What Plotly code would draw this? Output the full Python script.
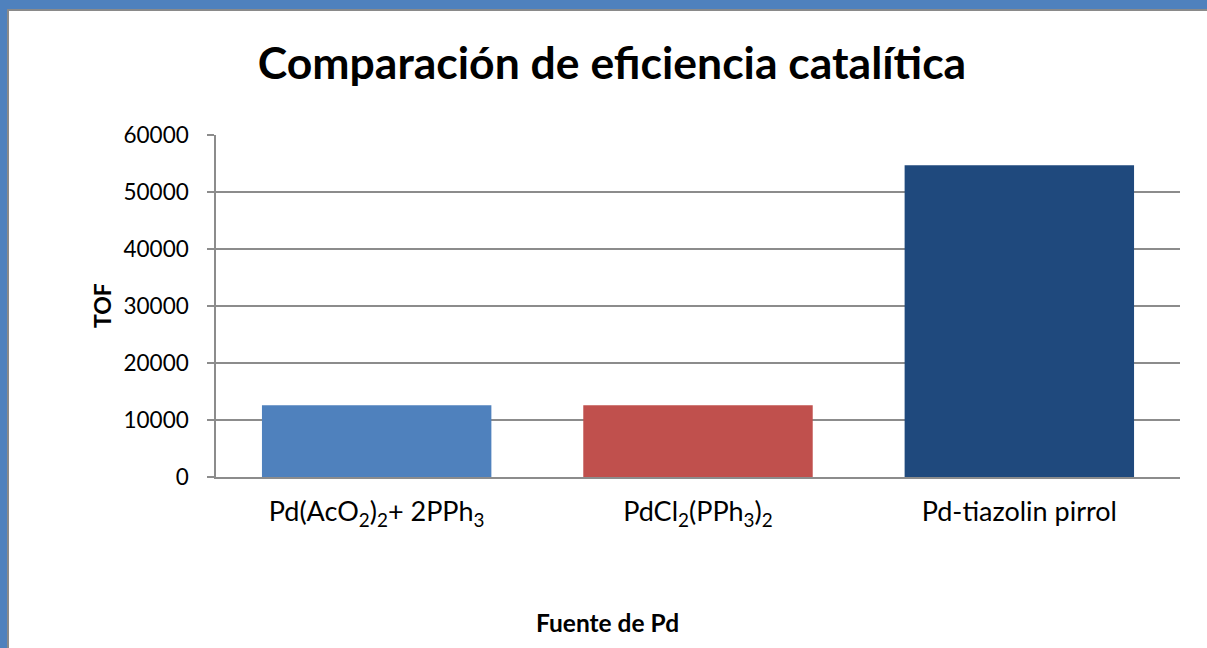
import plotly.graph_objects as go

# Catalyst sources and their turnover frequencies
categories = [
    "Pd(AcO<sub>2</sub>)<sub>2</sub>+ 2PPh<sub>3</sub>",
    "PdCl<sub>2</sub>(PPh<sub>3</sub>)<sub>2</sub>",
    "Pd-tiazolin pirrol",
]
tof_values = [12600, 12600, 54700]
bar_colors = ["#4F81BD", "#C0504D", "#1F497D"]
y_ticks = [0, 10000, 20000, 30000, 40000, 50000, 60000]

W, H = 1207, 648
ML, MR, MT, MB = 216, 27, 135, 171
PW, PH = W - ML - MR, H - MT - MB


def px(x):
    return (x - ML) / PW


def py(y):
    return (H - MB - y) / PH


FONT = "Lato"
GRID = "#8c8c8c"

fig = go.Figure(
    go.Bar(
        x=categories,
        y=tof_values,
        marker=dict(color=bar_colors, line=dict(width=0)),
        width=0.714,
    )
)

fig.update_layout(
    width=W,
    height=H,
    margin=dict(l=ML, r=MR, t=MT, b=MB, pad=0),
    paper_bgcolor="white",
    plot_bgcolor="white",
    showlegend=False,
    font=dict(family=FONT, color="black"),
    title=dict(
        text="<b>Comparación de eficiencia catalítica</b>",
        font=dict(family=FONT, size=44.5, color="black"),
        x=612 / W,
        xanchor="center",
        y=1 - 63 / H,
        yanchor="middle",
        xref="container",
        yref="container",
    ),
    xaxis=dict(
        showgrid=False,
        showline=True,
        linecolor=GRID,
        linewidth=1.5,
        ticks="",
        tickfont=dict(family=FONT, size=27, color="black"),
        ticklabelstandoff=10,
    ),
    yaxis=dict(
        range=[0, 60000],
        tickvals=y_ticks,
        tickformat="d",
        showgrid=True,
        gridcolor=GRID,
        gridwidth=1.5,
        showline=True,
        linecolor=GRID,
        linewidth=1.5,
        ticks="outside",
        ticklen=7,
        tickwidth=1.5,
        tickcolor=GRID,
        tickfont=dict(family=FONT, size=22.5, color="black"),
        ticklabelstandoff=14,
        zeroline=False,
    ),
    annotations=[
        dict(
            text="<b>TOF</b>",
            xref="paper",
            yref="paper",
            x=px(102),
            y=py(306),
            xanchor="center",
            yanchor="middle",
            textangle=-90,
            showarrow=False,
            font=dict(family=FONT, size=23, color="black"),
        ),
        dict(
            text="<b>Fuente de Pd</b>",
            xref="paper",
            yref="paper",
            x=px(607),
            y=py(622),
            xanchor="center",
            yanchor="middle",
            showarrow=False,
            font=dict(family=FONT, size=24.5, color="black"),
        ),
    ],
    shapes=[
        # blue frame along the top and left edges
        dict(type="rect", xref="paper", yref="paper", x0=px(0), x1=px(W), y0=py(0), y1=py(9),
             fillcolor="#4F81BD", line=dict(width=0), layer="above"),
        dict(type="rect", xref="paper", yref="paper", x0=px(0), x1=px(7), y0=py(0), y1=py(H),
             fillcolor="#4F81BD", line=dict(width=0), layer="above"),
        # thin grey inner edge of the frame
        dict(type="rect", xref="paper", yref="paper", x0=px(7), x1=px(W), y0=py(9), y1=py(11),
             fillcolor="#8a8a8a", line=dict(width=0), layer="above"),
        dict(type="rect", xref="paper", yref="paper", x0=px(7), x1=px(9), y0=py(9), y1=py(H),
             fillcolor="#8a8a8a", line=dict(width=0), layer="above"),
    ],
)

fig.write_html("out.html")
